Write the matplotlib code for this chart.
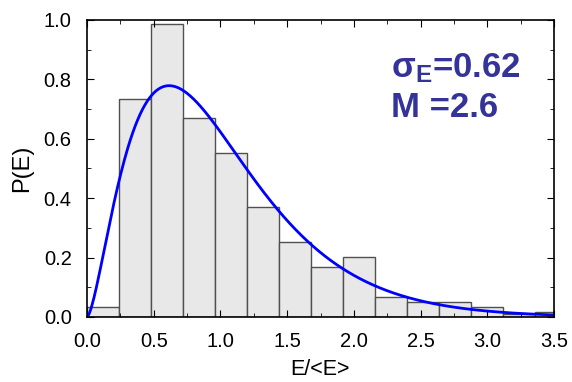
import numpy as np
import matplotlib.pyplot as plt
from matplotlib.ticker import MultipleLocator
from math import gamma

plt.rcParams['font.family'] = ['Liberation Sans', 'DejaVu Sans']

# histogram of E/<E>, bin width 0.24
bin_width = 0.24
bin_left = [0.0, 0.24, 0.48, 0.72, 0.96, 1.20, 1.44, 1.68, 1.92, 2.16, 2.40, 2.64, 2.88, 3.12, 3.36]
heights = [0.034, 0.735, 0.986, 0.670, 0.553, 0.369, 0.253, 0.169, 0.201, 0.067, 0.050, 0.050, 0.034, 0.010, 0.018]

# fit parameters shown in the plot
sigma_E = 0.62
M = 2.6

x = np.linspace(0, 3.5, 400)
pdf = M**M * x**(M - 1) * np.exp(-M * x) / gamma(M)

fig = plt.figure(figsize=(5.72, 3.82), dpi=100)
ax = fig.add_axes([87/572, 1 - 317/382, (554-87)/572, (317-20)/382])

ax.bar(bin_left, heights, width=bin_width, align='edge',
       color='#e8e8e8', edgecolor='#505050', linewidth=1.0)
ax.plot(x, pdf, color='#0000ff', linewidth=2)

ax.set_xlim(0, 3.5)
ax.set_ylim(0, 1.0)
ax.xaxis.set_major_locator(MultipleLocator(0.5))
ax.xaxis.set_minor_locator(MultipleLocator(0.25))
ax.yaxis.set_major_locator(MultipleLocator(0.2))
ax.yaxis.set_minor_locator(MultipleLocator(0.1))
ax.xaxis.set_major_formatter(plt.FormatStrFormatter('%.1f'))
ax.yaxis.set_major_formatter(plt.FormatStrFormatter('%.1f'))
ax.tick_params(which='both', direction='in', top=True, right=True, labelsize=14.5)
ax.tick_params(axis='x', which='major', pad=11)
ax.tick_params(axis='y', which='major', pad=11)
ax.tick_params(which='major', length=5)
ax.tick_params(which='minor', length=3)
for s in ax.spines.values():
    s.set_linewidth(1.2)

ax.set_xlabel('E/<E>', fontsize=15.5)
ax.set_ylabel('P(E)', fontsize=17)
ax.xaxis.set_label_coords(0.5, -0.14)
ax.yaxis.set_label_coords(-0.115, 0.5)

ax.text(0.65, 0.808, r'$\mathregular{σ_E}$=' + str(sigma_E),
        transform=ax.transAxes, fontsize=25, fontweight='bold', color='#333399')
ax.text(0.65, 0.673, 'M =' + str(M), transform=ax.transAxes,
        fontsize=25, fontweight='bold', color='#333399')

fig.savefig('out.png', dpi=100)
